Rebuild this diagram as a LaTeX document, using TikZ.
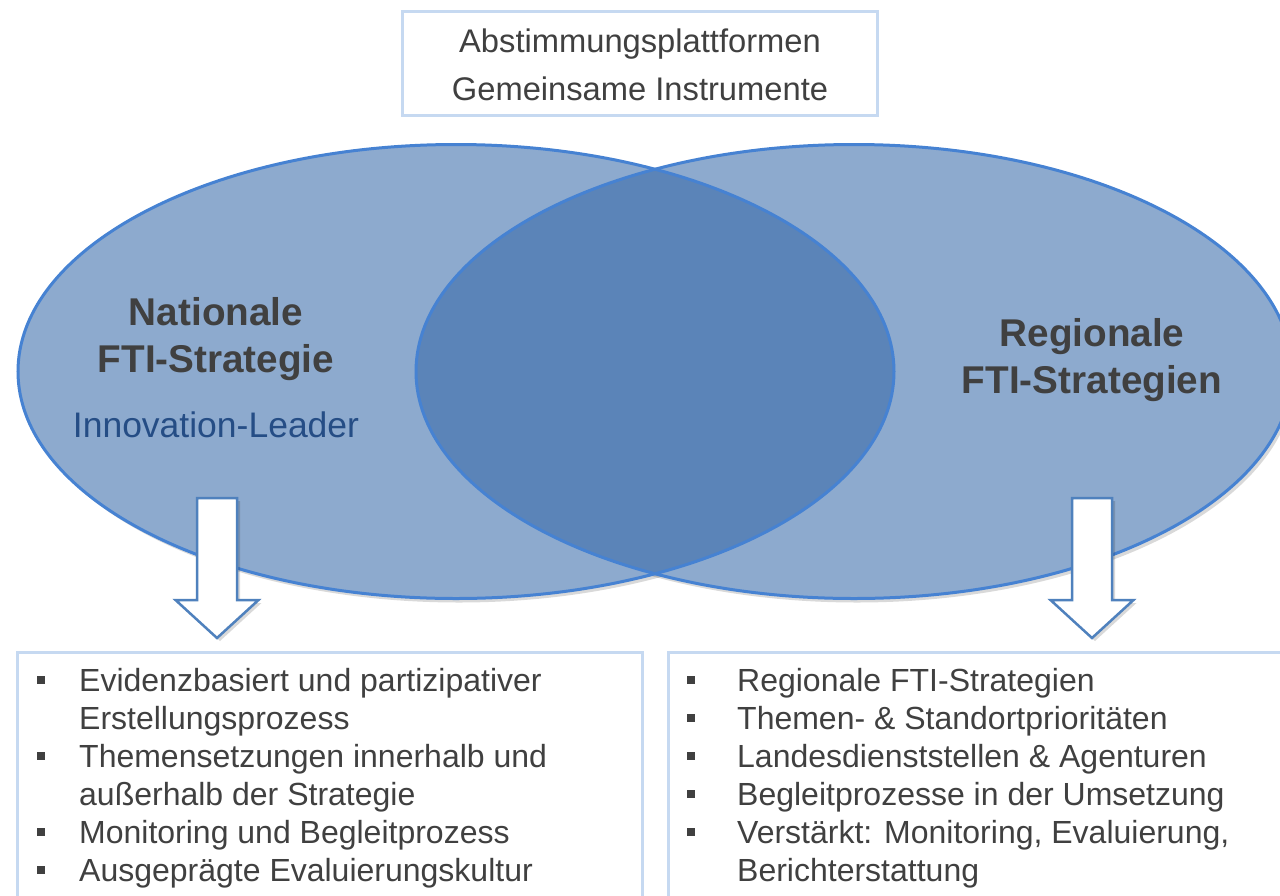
\documentclass[tikz,border=0pt]{standalone}
\usepackage{fontspec}
\setmainfont{Liberation Sans}
\definecolor{ellfill}{RGB}{141,170,206}
\definecolor{ovfill}{RGB}{91,132,184}
\definecolor{ellline}{RGB}{70,130,210}
\definecolor{boxline}{RGB}{198,217,241}
\definecolor{txt}{RGB}{64,64,64}
\definecolor{leader}{RGB}{37,77,133}
\definecolor{arrline}{RGB}{79,129,189}
\tikzset{
  ellshape/.style={fill=ellfill},
  ellrim/.style={draw=ellline, line width=3},
  shade/.style={fill=black, opacity=0.15},
  framebox/.style={draw=boxline, line width=3},
  blockarrow/.style={fill=white, draw=arrline, line width=2.5, line join=miter},
  listtext/.style={anchor=base west, inner sep=0, text=txt, font=\fontsize{32}{38}\selectfont},
  toptext/.style={anchor=base, inner sep=0, text=txt, font=\fontsize{32.7}{40}\selectfont},
  headtext/.style={anchor=base, inner sep=0, text=txt, font=\fontsize{38.7}{46}\selectfont\bfseries},
  leadertext/.style={anchor=base, inner sep=0, text=leader, font=\fontsize{35.5}{40}\selectfont},
  bulletbox/.style={fill=txt, minimum width=7.5, minimum height=8, inner sep=0, draw=none}
}
\begin{document}
\begin{tikzpicture}[x=1pt,y=-1pt]
\useasboundingbox (0,0) rectangle (1280,895);
\fill[white] (0,0) rectangle (1280,895);

% ellipse shadows
\fill[shade] (459,375.5) ellipse [x radius=438, y radius=227];
\fill[shade] (857,375.5) ellipse [x radius=438, y radius=227];
% fills
\fill[ellshape] (854,371.5) ellipse [x radius=438, y radius=227];
\fill[ellshape] (456,371.5) ellipse [x radius=438, y radius=227];
\begin{scope}
  \clip (456,371.5) ellipse [x radius=438, y radius=227];
  \fill[ovfill] (854,371.5) ellipse [x radius=438, y radius=227];
\end{scope}
% rims
\draw[ellrim] (854,371.5) ellipse [x radius=438, y radius=227];
\draw[ellrim] (456,371.5) ellipse [x radius=438, y radius=227];

% top box
\draw[framebox] (402,11) rectangle (877,115);
\node[toptext] (t1) at (640,52) {Abstimmungsplattformen};
\node[toptext] (t2) at (640,100) {Gemeinsame Instrumente};

% ellipse labels
\node[headtext] (n1) at (216,325) {Nationale};
\node[headtext] (n2) at (216,372) {FTI-Strategie};
\node[leadertext] (n3) at (216,437) {Innovation-Leader};
\node[headtext] (r1) at (1092,346) {Regionale};
\node[headtext] (r2) at (1092,393) {FTI-Strategien};

% block arrows
\fill[shade] (200,501) -- (240,501) -- (240,603) -- (261.5,603) -- (220,641) -- (178.5,603) -- (200,603) -- cycle;
\draw[blockarrow] (197,498) -- (237,498) -- (237,600) -- (258.5,600) -- (217,638) -- (175.5,600) -- (197,600) -- cycle;
\fill[shade] (1075,501) -- (1115,501) -- (1115,603) -- (1136.5,603) -- (1095,641) -- (1053.5,603) -- (1075,603) -- cycle;
\draw[blockarrow] (1072,498) -- (1112,498) -- (1112,600) -- (1133.5,600) -- (1092,638) -- (1050.5,600) -- (1072,600) -- cycle;

% bottom boxes
\draw[framebox] (17,652) rectangle (642,910);
\draw[framebox] (668,652) rectangle (1295,910);

% left list
\node[bulletbox] (lb1) at (41,680) {};
\node[listtext] (l1) at (79,691) {Evidenzbasiert und partizipativer};
\node[listtext] (l2) at (79,729) {Erstellungsprozess};
\node[bulletbox] (lb3) at (41,756) {};
\node[listtext] (l3) at (79,767) {Themensetzungen innerhalb und};
\node[listtext] (l4) at (79,805) {außerhalb der Strategie};
\node[bulletbox] (lb5) at (41,832) {};
\node[listtext] (l5) at (79,843) {Monitoring und Begleitprozess};
\node[bulletbox] (lb6) at (41,870) {};
\node[listtext] (l6) at (79,881) {Ausgeprägte Evaluierungskultur};

% right list
\node[bulletbox] (rb1) at (691,680) {};
\node[listtext] (rl1) at (737,691) {Regionale FTI-Strategien};
\node[bulletbox] (rb2) at (691,718) {};
\node[listtext] (rl2) at (737,729) {Themen- \& Standortprioritäten};
\node[bulletbox] (rb3) at (691,756) {};
\node[listtext] (rl3) at (737,767) {Landesdienststellen \& Agenturen};
\node[bulletbox] (rb4) at (691,794) {};
\node[listtext] (rl4) at (737,805) {Begleitprozesse in der Umsetzung};
\node[bulletbox] (rb5) at (691,832) {};
\node[listtext] (rl5) at (737,843) {Verstärkt: Monitoring, Evaluierung,};
\node[listtext] (rl6) at (737,881) {Berichterstattung};
\end{tikzpicture}
\end{document}
